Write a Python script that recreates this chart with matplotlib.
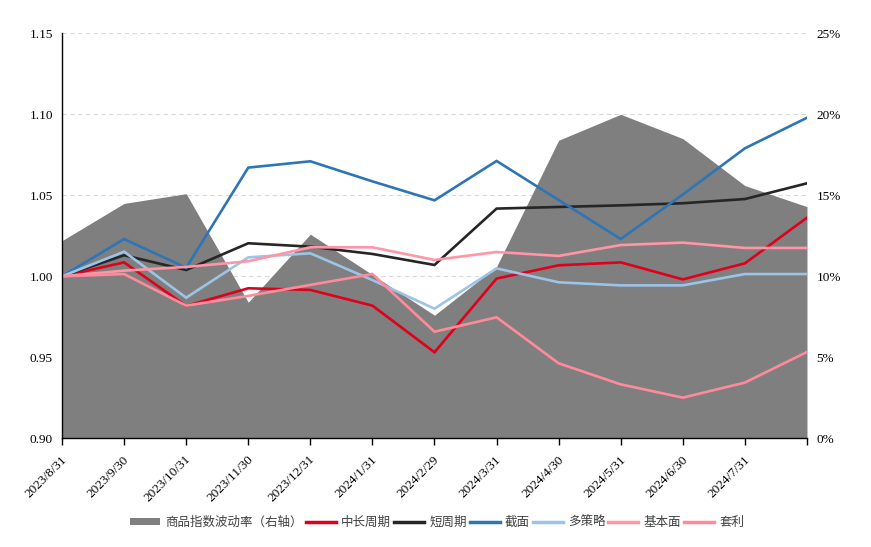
import matplotlib
matplotlib.use("Agg")
import matplotlib.pyplot as plt
import matplotlib.transforms as mtransforms
from matplotlib.patches import Patch
from matplotlib.lines import Line2D

dates = ["2023/8/31", "2023/9/30", "2023/10/31", "2023/11/30", "2023/12/31",
         "2024/1/31", "2024/2/29", "2024/3/31", "2024/4/30", "2024/5/31",
         "2024/6/30", "2024/7/31", "2024/8/30"]
tick_labels = dates[:12] + [""]

vol = [12.2, 14.5, 15.1, 8.4, 12.6, 10.1, 7.6, 10.6, 18.4, 20.0, 18.5, 15.6, 14.3]
mid_long = [1.000, 1.0086, 0.9817, 0.9926, 0.9916, 0.9819, 0.9531, 0.9986, 1.0068, 1.0086, 0.9981, 1.0080, 1.0362]
short = [1.000, 1.0130, 1.0039, 1.0204, 1.0183, 1.0138, 1.0070, 1.0418, 1.0428, 1.0438, 1.0451, 1.0477, 1.0574]
cross = [1.000, 1.0230, 1.0053, 1.0671, 1.0710, 1.0586, 1.0469, 1.0712, 1.0471, 1.0230, 1.0505, 1.0790, 1.0979]
multi = [1.000, 1.0152, 0.9868, 1.0117, 1.0142, 0.9977, 0.9800, 1.0049, 0.9963, 0.9944, 0.9944, 1.0014, 1.0014]
fund = [1.000, 1.0035, 1.0058, 1.0093, 1.0179, 1.0179, 1.0101, 1.0150, 1.0126, 1.0193, 1.0208, 1.0175, 1.0175]
arb = [1.000, 1.0014, 0.9819, 0.9879, 0.9947, 1.0014, 0.9658, 0.9747, 0.9463, 0.9333, 0.9251, 0.9344, 0.9533]

series = [
    ("中长周期", mid_long, "#E0001B"),
    ("短周期", short, "#262626"),
    ("截面", cross, "#2E75B6"),
    ("多策略", multi, "#9DC3E6"),
    ("基本面", fund, "#FF95A5"),
    ("套利", arb, "#FF8A9B"),
]

serif = ["Liberation Serif", "DejaVu Serif"]
cjk = ["Noto Sans CJK SC", "DejaVu Sans"]

fig = plt.figure(figsize=(8.71, 5.47), dpi=100)
ax = fig.add_axes([0.0712, 0.1987, 0.8553, 0.7404])
ax2 = ax.twinx()

x = list(range(len(dates)))

# area on secondary axis (drawn below)
ax2.fill_between(x, 0, vol, color="#7F7F7F", linewidth=0, zorder=2)
ax2.set_ylim(0, 25)
ax2.set_yticks([0, 5, 10, 15, 20, 25])
ax2.set_yticklabels([f"{v}%" for v in [0, 5, 10, 15, 20, 25]], fontfamily=serif, fontsize=9.5)
ax2.tick_params(axis="y", length=0, pad=7)
ax2.set_axisbelow(True)
ax2.grid(axis="y", color="#D9D9D9", linestyle=(0, (4, 3)), linewidth=0.8)
for s in ax2.spines.values():
    s.set_visible(False)

ax.set_zorder(ax2.get_zorder() + 1)
ax.patch.set_visible(False)

for name, vals, c in series:
    ax.plot(x, vals, color=c, linewidth=1.9, solid_joinstyle="miter")

ax.set_xlim(0, 12)
ax.set_ylim(0.90, 1.15)
ax.set_yticks([0.90, 0.95, 1.00, 1.05, 1.10, 1.15])
ax.set_yticklabels([f"{v:.2f}" for v in [0.90, 0.95, 1.00, 1.05, 1.10, 1.15]], fontfamily=serif, fontsize=9.5)
ax.tick_params(axis="y", length=0, pad=6.5)
ax.set_xticks(x)
ax.set_xticklabels(tick_labels, rotation=45, ha="right", va="center", rotation_mode="anchor",
                   fontfamily=serif, fontsize=9.5)
ax.tick_params(axis="x", length=5, width=1, pad=9, color="black")
offset = mtransforms.ScaledTranslation(3 / 100, 0, fig.dpi_scale_trans)
for lab in ax.get_xticklabels():
    lab.set_transform(lab.get_transform() + offset)
for k in ["top", "right"]:
    ax.spines[k].set_visible(False)
ax.spines["left"].set_color("black")
ax.spines["bottom"].set_color("black")
ax.spines["left"].set_linewidth(1.0)
ax.spines["bottom"].set_linewidth(1.0)

handles = [Patch(facecolor="#7F7F7F", edgecolor="none")]
labels = ["商品指数波动率（右轴）"]
for name, vals, c in series:
    handles.append(Line2D([0], [0], color=c, linewidth=2.5))
    labels.append(name)
leg = fig.legend(handles, labels, loc="center", bbox_to_anchor=(0.502, 0.045), ncol=7,
                 frameon=False, prop={"family": cjk, "size": 9}, handlelength=2.4,
                 handletextpad=0.4, columnspacing=0.25, handleheight=0.6)
for t in leg.get_texts():
    t.set_color("#404040")

fig.savefig("out.png", dpi=100)
